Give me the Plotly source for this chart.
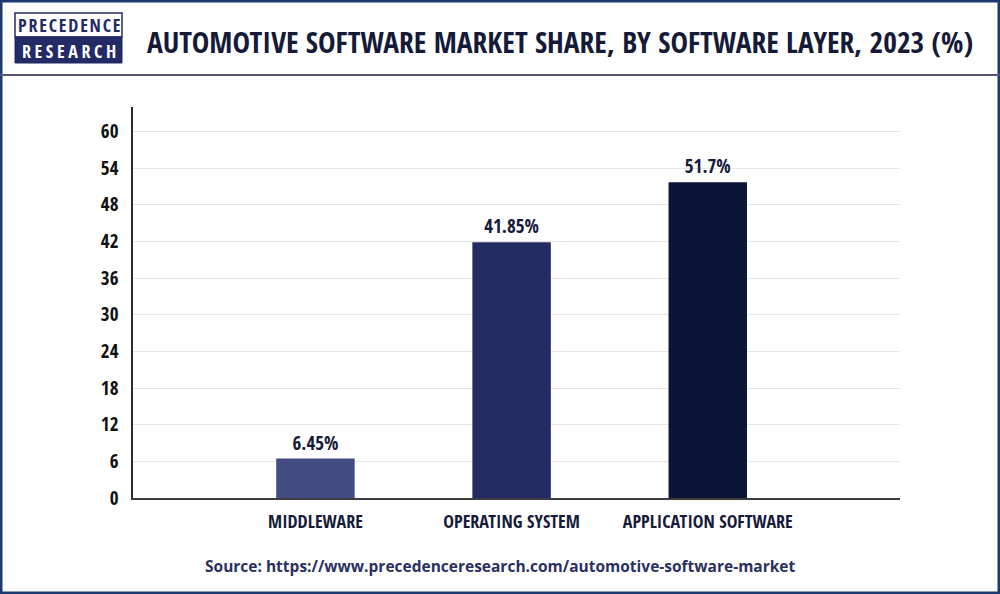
import plotly.graph_objects as go

# data
categories = ["MIDDLEWARE", "OPERATING SYSTEM", "APPLICATION SOFTWARE"]
shares = [6.45, 41.85, 51.7]
labels = ["6.45%", "41.85%", "51.7%"]
bar_colors = ["#434c82", "#232c62", "#0d1536"]
y_ticks = [0, 6, 12, 18, 24, 30, 36, 42, 48, 54, 60]

W, H = 1000, 594
L, R, T, B = 133, 100, 107, 96
COND = "Open Sans Condensed, Roboto Condensed, sans-serif"


def px(x):
    return (x - L) / (W - L - R)


def py(y):
    return 1 - (y - T) / (H - T - B)


fig = go.Figure()
fig.add_trace(go.Bar(
    x=categories,
    y=shares,
    width=0.4,
    marker=dict(color=bar_colors, line_width=0),
    text=labels,
    textposition="outside",
    textfont=dict(family=COND, size=19, color="#161b3a", weight="bold"),
    cliponaxis=False,
))

shapes = [
    dict(type="rect", xref="paper", yref="paper", x0=px(1), x1=px(W - 1), y0=py(1), y1=py(H - 1),
         line=dict(color="#1d3a6e", width=3), layer="below"),
    dict(type="line", xref="paper", yref="paper", x0=px(0), x1=px(W), y0=py(75), y1=py(75),
         line=dict(color="#565676", width=2)),
    dict(type="rect", xref="paper", yref="paper", x0=px(15), x1=px(122), y0=py(13), y1=py(37),
         line=dict(color="#232a66", width=1.5), fillcolor="white"),
    dict(type="rect", xref="paper", yref="paper", x0=px(15), x1=px(122), y0=py(37), y1=py(63),
         line=dict(color="#232a66", width=1), fillcolor="#232a66"),
]

annotations = [
    dict(text="\u200a".join("PRECEDENCE"), x=px(68.5), y=py(25.5), xref="paper", yref="paper",
         xanchor="center", yanchor="middle", showarrow=False,
         font=dict(family=COND, size=18, color="#232a66", weight="bold")),
    dict(text="\u2009".join("RESEARCH"), x=px(68.5), y=py(50.5), xref="paper", yref="paper",
         xanchor="center", yanchor="middle", showarrow=False,
         font=dict(family=COND, size=18, color="white", weight="bold")),
    dict(text="AUTOMOTIVE SOFTWARE MARKET SHARE, BY SOFTWARE LAYER, 2023 (%)",
         x=px(145), y=py(42), xref="paper", yref="paper", xanchor="left", yanchor="middle",
         showarrow=False,
         font=dict(family=COND, size=29.5, color="#151a38", weight="bold")),
    dict(text="<b>Source: https://www.precedenceresearch.com/automotive-software-market</b>",
         x=px(500), y=py(566), xref="paper", yref="paper", xanchor="center", yanchor="middle",
         showarrow=False,
         font=dict(family="Open Sans, sans-serif", size=15.5, color="#2a3160")),
]

fig.update_layout(
    width=W, height=H,
    margin=dict(l=L, r=R, t=T, b=B),
    paper_bgcolor="white",
    plot_bgcolor="white",
    showlegend=False,
    shapes=shapes,
    annotations=annotations,
    xaxis=dict(
        type="category",
        range=[-0.93, 2.98],
        showline=True, linecolor="#3c3c3c", linewidth=2,
        showgrid=False, ticks="",
        ticklabelstandoff=6,
        tickfont=dict(family=COND, size=18, color="#161b3a", weight="bold"),
    ),
    yaxis=dict(
        range=[0, 64],
        tickvals=y_ticks,
        showline=True, linecolor="#2a2a2a", linewidth=1.5,
        showgrid=True, gridcolor="#e6e6e6", gridwidth=1,
        zeroline=False, ticks="",
        ticklabelstandoff=9,
        tickfont=dict(family=COND, size=19, color="#111111", weight="bold"),
    ),
)

fig.write_html("out.html", config={"displayModeBar": False},
               post_script="document.body.style.margin='0';")
